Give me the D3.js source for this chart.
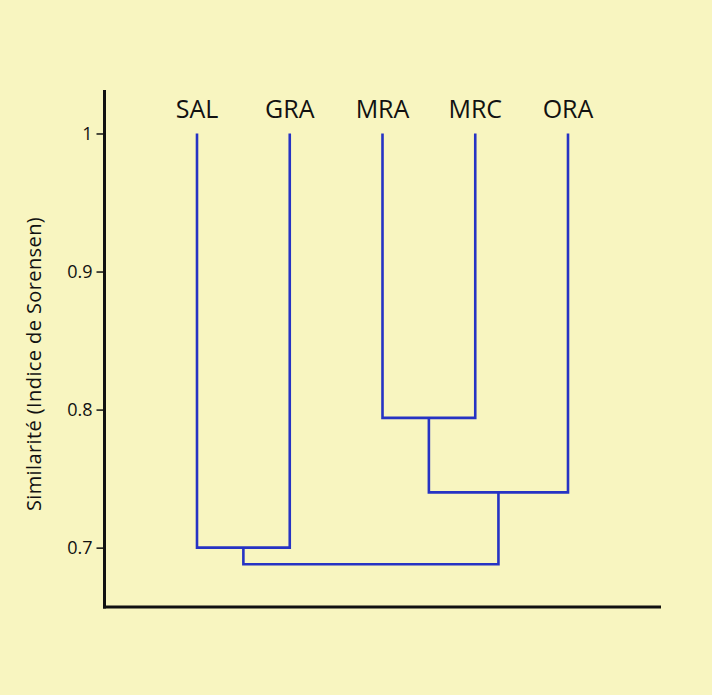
<!DOCTYPE html>
<html>
<head>
<meta charset="utf-8">
<script src="https://cdn.jsdelivr.net/npm/d3@7"></script>
<style>
  body { margin: 0; background: #f8f5c0; }
  text { font-family: "Open Sans", "Noto Sans", sans-serif; fill: #111; }
</style>
</head>
<body>
<svg id="chart" width="712" height="695"></svg>
<script>
// dendrogram of site similarity (Sorensen index)
var leaves = ["SAL", "GRA", "MRA", "MRC", "ORA"];
var leafHeight = 1.0;

// each merge joins two nodes (leaf names or earlier merge ids) at a similarity
var mergeIds    = ["m1", "m2", "m3", "m4"];
var mergeLeft   = ["MRA", "SAL", "m1", "m2"];
var mergeRight  = ["MRC", "GRA", "ORA", "m3"];
var mergeHeight = [0.794, 0.700, 0.740, 0.688];

var yTicks = [0.7, 0.8, 0.9, 1];

var svg = d3.select("#chart");

var x = d3.scalePoint().domain(leaves).range([197, 568]);
var y = d3.scaleLinear().domain([0.657, 1.0315]).range([607, 90]);

// node positions
var pos = {};
leaves.forEach(function(d) { pos[d] = { x: x(d), y: y(leafHeight) }; });

var links = mergeIds.map(function(id, i) {
  var a = pos[mergeLeft[i]], b = pos[mergeRight[i]], h = y(mergeHeight[i]);
  pos[id] = { x: (a.x + b.x) / 2, y: h };
  return [[a.x, a.y], [a.x, h], [b.x, h], [b.x, b.y]];
});

svg.append("g")
  .selectAll("path")
  .data(links)
  .enter().append("path")
    .attr("d", d3.line())
    .attr("fill", "none")
    .attr("stroke", "#2633c4")
    .attr("stroke-width", 2.6)
    .attr("stroke-linejoin", "miter");

// axes
var axisX = 104.5;
svg.append("line")
  .attr("x1", axisX).attr("x2", axisX)
  .attr("y1", y.range()[1]).attr("y2", y.range()[0] + 1.5)
  .attr("stroke", "#111").attr("stroke-width", 3);
svg.append("line")
  .attr("x1", axisX - 1.5).attr("x2", 661)
  .attr("y1", y.range()[0]).attr("y2", y.range()[0])
  .attr("stroke", "#111").attr("stroke-width", 3);

var yAxis = svg.append("g")
  .attr("transform", "translate(" + axisX + ",0)")
  .call(d3.axisLeft(y).tickValues(yTicks).tickSize(8).tickPadding(4)
    .tickFormat(function(d) { return d === 1 ? "1" : d3.format(".1f")(d); }));
yAxis.select(".domain").remove();
yAxis.selectAll(".tick line").attr("stroke", "#111").attr("stroke-width", 1.5);
yAxis.selectAll(".tick text")
  .style("font-family", "'Open Sans', 'Noto Sans', sans-serif")
  .style("font-size", "18px")
  .attr("fill", "#111");

// leaf labels
svg.append("g")
  .selectAll("text")
  .data(leaves)
  .enter().append("text")
    .attr("x", function(d) { return x(d); })
    .attr("y", 118)
    .attr("text-anchor", "middle")
    .style("font-size", "25px")
    .text(function(d) { return d; });

// y title
svg.append("text")
  .attr("transform", "translate(41,364) rotate(-90)")
  .attr("text-anchor", "middle")
  .style("font-size", "20px")
  .style("letter-spacing", "0.4px")
  .text("Similarité (Indice de Sorensen)");
</script>
</body>
</html>
